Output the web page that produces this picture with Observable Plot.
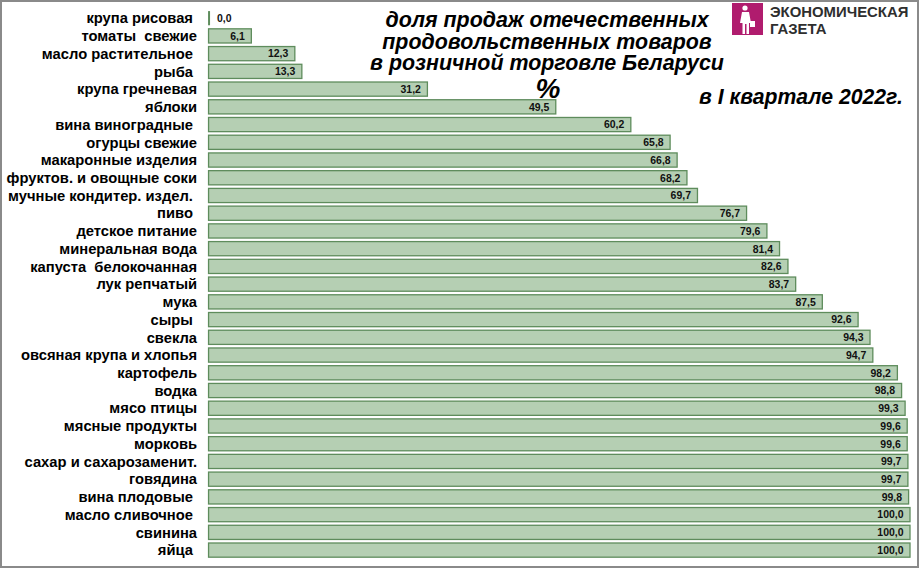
<!DOCTYPE html>
<html>
<head>
<meta charset="utf-8">
<script src="https://cdn.jsdelivr.net/npm/d3@7"></script>
<script src="https://cdn.jsdelivr.net/npm/@observablehq/plot@0.6"></script>
<style>
  html, body { margin: 0; padding: 0; background: #fff; }
  #wrap { position: relative; width: 919px; height: 568px; box-sizing: border-box; border: 2px solid #8a8a8a; overflow: hidden; background: #fff; }
  #chart { position: absolute; left: -2px; top: -2px; }
  svg text { white-space: pre; }
  .title { position: absolute; font-family: "Liberation Sans", Arial, sans-serif; font-weight: bold; font-style: italic; color: #000; text-align: center; white-space: nowrap; line-height: 1; }
  .logo-text { position: absolute; font-family: "Liberation Sans", Arial, sans-serif; font-weight: bold; color: #2e2e2e; white-space: nowrap; line-height: 1; }
</style>
</head>
<body>
<div id="wrap">
  <div id="chart"></div>
  <div class="title" style="left:345px; top:8px; width:400px; font-size:21.4px;">доля продаж отечественных</div>
  <div class="title" style="left:345px; top:29.5px; width:400px; font-size:21.4px;">продовольственных товаров</div>
  <div class="title" style="left:345px; top:51px; width:400px; font-size:21.4px;">в розничной торговле Беларуси</div>
  <div class="title" style="left:516px; top:73px; width:60px; font-size:28px;">%</div>
  <div class="title" style="left:697px; top:84px; width:220px; font-size:21.2px; text-align:left;">в I квартале 2022г.</div>
  <div style="position:absolute; left:730px; top:1px; width:31px; height:32px; background:#b01c6e;">
    <svg width="31" height="32" viewBox="0 0 31 32">
      <circle cx="13" cy="5" r="2.6" fill="#fff"/>
      <path d="M10 9 L17 9 L19 20 L17 20 L17 31 L14.5 31 L14.5 21 L13 21 L13 31 L10.5 31 L10.5 20 L8 20 Z" fill="#fff"/>
      <rect x="18" y="18" width="5" height="6" fill="#fff"/>
    </svg>
  </div>
  <div class="logo-text" style="left:768px; top:3px; font-size:14.9px;">ЭКОНОМИЧЕСКАЯ</div>
  <div class="logo-text" style="left:768px; top:20px; font-size:14.9px;">ГАЗЕТА</div>
</div>
<script>
const categories = [
  "крупа рисовая ", "томаты  свежие", "масло растительное ", "рыба ", "крупа гречневая",
  "яблоки", "вина виноградные ", "огурцы свежие", "макаронные изделия", "фруктов. и овощные соки",
  "мучные кондитер. издел. ", "пиво ", "детское питание", "минеральная вода", "капуста  белокочанная",
  "лук репчатый", "мука", "сыры ", "свекла", "овсяная крупа и хлопья",
  "картофель", "водка", "мясо птицы", "мясные продукты", "морковь",
  "сахар и сахарозаменит.", "говядина", "вина плодовые ", "масло сливочное ", "свинина", "яйца "
];
const values = [
  0.0, 6.1, 12.3, 13.3, 31.2,
  49.5, 60.2, 65.8, 66.8, 68.2,
  69.7, 76.7, 79.6, 81.4, 82.6,
  83.7, 87.5, 92.6, 94.3, 94.7,
  98.2, 98.8, 99.3, 99.6, 99.6,
  99.7, 99.7, 99.8, 100.0, 100.0, 100.0
];

const data = categories.map((c, i) => ({name: c, value: values[i], label: values[i].toFixed(1).replace(".", ",")}));

const chart = Plot.plot({
  width: 919,
  height: 568,
  marginLeft: 209,
  marginRight: 7,
  marginTop: 7.56,
  marginBottom: 6.04,
  style: {fontFamily: "'Liberation Sans', Arial, sans-serif", fontSize: "14.8px", fontWeight: "bold", color: "#000", background: "transparent"},
  x: {domain: [0, 100], axis: null},
  y: {domain: categories, padding: 0.2, round: false, label: null},
  marks: [
    Plot.barX(data, {x: "value", y: "name", fill: "#b5cfb3", stroke: "#5e8c5c", strokeWidth: 1.3}),
    Plot.tickX(data.filter(d => d.value === 0), {x: "value", y: "name", stroke: "#5e8c5c", strokeWidth: 2}),
    Plot.axisY({tickSize: 0, tickPadding: 12, label: null, fontSize: 14.8, fontWeight: "bold", fill: "#000"}),
    Plot.text(data.filter(d => d.value >= 3), {x: "value", y: "name", text: "label", textAnchor: "end", dx: -7, fontSize: 10.5, fontWeight: "bold", fill: "#111"}),
    Plot.text(data.filter(d => d.value < 3), {x: "value", y: "name", text: "label", textAnchor: "start", dx: 8, fontSize: 10.5, fontWeight: "bold", fill: "#111"})
  ]
});
document.getElementById("chart").appendChild(chart);
</script>
</body>
</html>
